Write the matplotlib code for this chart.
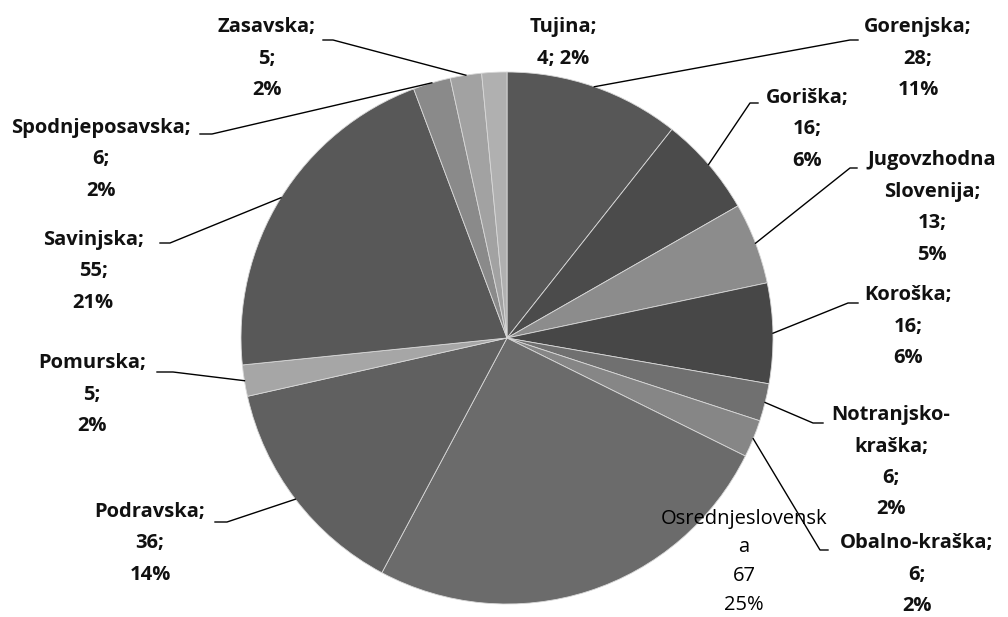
import numpy as np
import matplotlib.pyplot as plt

regions = ['Gorenjska', 'Goriška', 'Jugovzhodna Slovenija', 'Koroška', 'Notranjsko-kraška',
           'Obalno-kraška', 'Osrednjeslovenska', 'Podravska', 'Pomurska', 'Savinjska',
           'Spodnjeposavska', 'Zasavska', 'Tujina']
counts = [28, 16, 13, 16, 6, 6, 67, 36, 5, 55, 6, 5, 4]
colors = ['#575757', '#4b4b4b', '#8c8c8c', '#474747', '#707070', '#868686', '#6b6b6b',
          '#606060', '#a6a6a6', '#585858', '#8a8a8a', '#a2a2a2', '#b0b0b0']

W, H = 1008, 617
total = sum(counts)
pcts = [round(c / total * 100) for c in counts]

# label texts as in the original (Excel wrapped some names)
names_wrapped = ['Gorenjska', 'Goriška', 'Jugovzhodna\nSlovenija', 'Koroška', 'Notranjsko-\nkraška',
                 'Obalno-kraška', 'Osrednjeslovensk\na', 'Podravska', 'Pomurska', 'Savinjska',
                 'Spodnjeposavska', 'Zasavska', 'Tujina']
texts = []
for i, n in enumerate(names_wrapped):
    if regions[i] == 'Osrednjeslovenska':
        texts.append(f"{n}\n{counts[i]}\n{pcts[i]}%")
    elif regions[i] == 'Tujina':
        texts.append(f"{n};\n{counts[i]}; {pcts[i]}%")
    else:
        texts.append(f"{n};\n{counts[i]};\n{pcts[i]}%")

# layout in pixels (x center, y of first line center)
label_pos = [(918, 27), (807, 98), (932, 160), (908, 295), (891, 415), (917, 543),
             (744, 519), (150, 512), (92, 363), (93, 240), (101, 128), (267, 27), (563, 27)]
# leader lines: (knee, end at label) or None
leaders = [((850, 40), (858, 40)), ((750, 103), (758, 103)), ((850, 168), (857, 168)),
           ((848, 303), (858, 303)), ((813, 423), (823, 423)), ((820, 550), (828, 550)),
           None, ((227, 522), (215, 522)), ((173, 372), (157, 372)), ((170, 243), (160, 243)),
           ((212, 134), (200, 134)), ((333, 40), (323, 40)), None]

cx, cy, r = 507, H - 338, 266

fig = plt.figure(figsize=(W / 100, H / 100), dpi=100)
ax = fig.add_axes([0, 0, 1, 1])
wedges, _ = ax.pie(counts, colors=colors, startangle=90, counterclock=False,
                   center=(cx, cy), radius=r,
                   wedgeprops=dict(edgecolor='#d8d8d8', linewidth=0.6))
ax.set_xlim(0, W)
ax.set_ylim(0, H)
ax.set_aspect('equal')
ax.axis('off')

for i, w in enumerate(wedges):
    x, y0 = label_pos[i]
    weight = 'normal' if regions[i] == 'Osrednjeslovenska' else 'bold'
    tcol = '#000000' if regions[i] == 'Osrednjeslovenska' else '#111111'
    line_h = 28.5 if regions[i] == 'Osrednjeslovenska' else 31.5
    for k, line in enumerate(texts[i].split('\n')):
        ax.text(x, H - (y0 + k * line_h), line, ha='center', va='center',
                fontsize=14.5, fontweight=weight, family=['Open Sans', 'DejaVu Sans'], color=tcol)
    if leaders[i] is not None:
        mid = np.deg2rad((w.theta1 + w.theta2) / 2)
        px, py = cx + r * np.cos(mid), cy + r * np.sin(mid)
        (kx, ky), (ex, ey) = leaders[i]
        ax.plot([px, kx, ex], [py, H - ky, H - ey], color='black', lw=1)

plt.savefig('out.png', dpi=100, facecolor='white')
